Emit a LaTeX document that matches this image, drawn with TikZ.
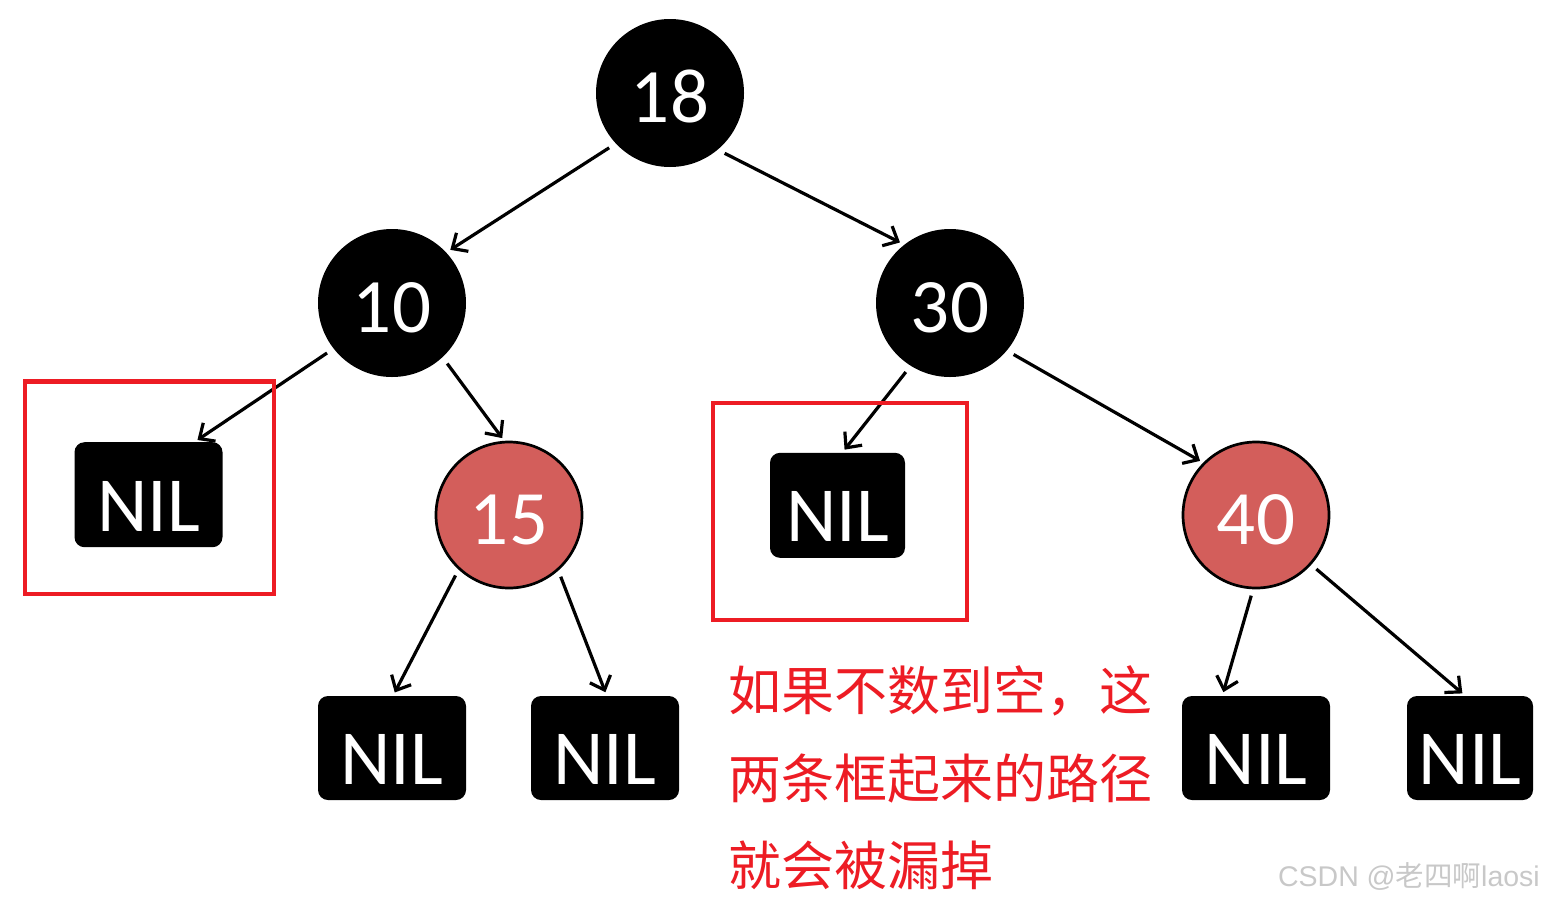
\documentclass[tikz,border=0pt]{standalone}
\usepackage{fontspec}
\setmainfont{Carlito}
\newfontfamily\cjk{Noto Sans CJK SC}
\newfontfamily\wmfont{Liberation Sans}
\usetikzlibrary{arrows.meta}
\definecolor{rbnode}{RGB}{211,94,91}
\definecolor{markred}{RGB}{237,28,36}
\definecolor{wmgray}{RGB}{200,200,200}
\tikzset{
  x=1pt, y=-1pt,
  blacknode/.style={circle, fill=black, minimum size=148pt, inner sep=0pt, outer sep=0pt,
    text=white, font=\fontsize{77}{77}\selectfont, text height=59pt, text depth=0pt},
  rednode/.style={circle, fill=rbnode, draw=black, line width=2.7pt, minimum size=146pt, inner sep=0pt, outer sep=0pt,
    text=white, font=\fontsize{77}{77}\selectfont, text height=59pt, text depth=0pt},
  nilbox/.style={rectangle, rounded corners=10pt, fill=black, minimum height=105pt, inner sep=0pt, outer sep=0pt,
    text=white, font=\fontsize{78}{78}\selectfont, text height=73pt, text depth=0pt},
  edge/.style={line width=3.2pt, -{Straight Barb[length=12pt,width=22pt]}, shorten <=8pt, shorten >=5pt},
  nedge/.style={edge, shorten >=4pt},
  markbox/.style={draw=markred, line width=4.5pt},
  note/.style={anchor=west, text=markred, font=\cjk\fontsize{53}{53}\selectfont, inner sep=0pt, text height=40pt, text depth=0pt}
}
\begin{document}
\begin{tikzpicture}
\useasboundingbox (0,0) rectangle (1543,903);
% nodes
\node[blacknode] (n18) at (670,93) {18};
\node[blacknode] (n10) at (392,303) {10};
\node[blacknode] (n30) at (950,303) {30};
\node[rednode] (n15) at (509,515) {15};
\node[rednode] (n40) at (1256,515) {40};
\node[nilbox, minimum width=148pt] (nil1) at (148.5,494.7) {NIL};
\node[nilbox, minimum width=135pt] (nil2) at (837.5,505.3) {NIL};
\node[nilbox, minimum width=148pt, minimum height=104pt] (nil3) at (392,748) {NIL};
\node[nilbox, minimum width=148pt, minimum height=104pt] (nil4) at (605,748) {NIL};
\node[nilbox, minimum width=148pt, minimum height=104pt] (nil5) at (1256,748) {NIL};
\node[nilbox, minimum width=126pt, minimum height=104pt] (nil6) at (1470,748) {NIL};
% edges
\draw[edge] (n18.223.5) -- (n10.43.5);
\draw[edge] (n18.310) -- (n30.128);
\draw[nedge] (n10.218) -- (nil1.49);
\draw[edge] (n10.313) -- (n15.93);
\draw[nedge] (n30.238.7) -- (nil2.85);
\draw[edge] (n30.320) -- (n40.135.5);
\draw[nedge] (n15.227) -- (nil3.89);
\draw[nedge] (n15.312) -- (nil4.88);
\draw[nedge] (n40.268.6) -- (nil5.123);
\draw[nedge] (n40.318) -- (nil6.95.5);
% marking boxes
\draw[markbox] (25,381.5) rectangle (274,594);
\draw[markbox] (713,403) rectangle (967,620);
% note
\node[note] (l1) at (728,690) {如果不数到空，这};
\node[note] (l2) at (728,778) {两条框起来的路径};
\node[note] (l3) at (728,865) {就会被漏掉};
% watermark
\node[anchor=east, text=wmgray, inner sep=0pt, font=\wmfont\fontsize{28.5}{28.5}\selectfont] (wm) at (1540,876) {CSDN @{\cjk 老四啊}laosi};
\end{tikzpicture}
\end{document}
